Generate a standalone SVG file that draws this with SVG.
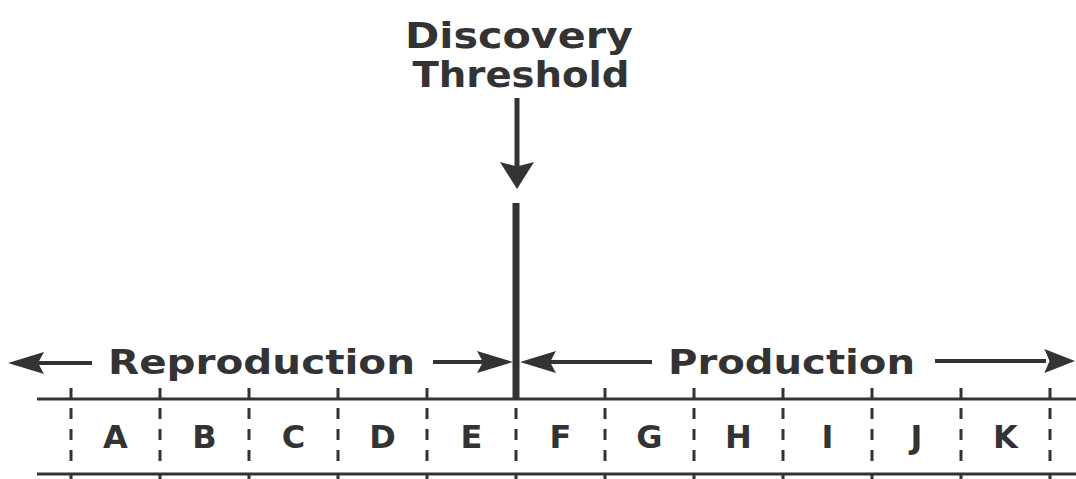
<svg xmlns="http://www.w3.org/2000/svg" width="1076" height="479" viewBox="0 0 1076 479">
  <style>
    .ink { fill: #333; }
    .line { stroke: #333; fill: none; }
    .title { font-family: "DejaVu Sans", "Liberation Sans", sans-serif; font-weight: bold; font-size: 36px; fill: #333; text-anchor: middle; }
    .phase { font-family: "DejaVu Sans", "Liberation Sans", sans-serif; font-weight: bold; font-size: 34px; fill: #333; }
    .cell { font-family: "DejaVu Sans", "Liberation Sans", sans-serif; font-weight: bold; font-size: 32px; fill: #333; text-anchor: middle; }
    .rule { stroke: #333; stroke-width: 3; }
    .tick { stroke: #333; stroke-width: 3; }
    .dash { stroke: #333; stroke-width: 3; stroke-dasharray: 11 10; }
  </style>
  <defs>
    <!-- barbed arrowhead pointing right, tip at origin -->
    <path id="head" d="M0 0 L-36 -11 L-30 0 L-36 11 Z"/>
  </defs>

  <rect width="1076" height="479" fill="#fff"/>

  <g id="threshold-label">
    <text class="title" x="519" y="48" textLength="228" lengthAdjust="spacingAndGlyphs">Discovery</text>
    <text class="title" x="521" y="87" textLength="217" lengthAdjust="spacingAndGlyphs">Threshold</text>
  </g>

  <g id="threshold-line">
    <line class="line" x1="516" y1="203" x2="516" y2="399" stroke-width="7"/>
  </g>

  <g id="reproduction-label">
    <text class="phase" x="108" y="374" textLength="307" lengthAdjust="spacingAndGlyphs">Reproduction</text>
  </g>

  <g id="production-label">
    <text class="phase" x="668" y="374" textLength="247" lengthAdjust="spacingAndGlyphs">Production</text>
  </g>

  <g id="timeline">
    <line class="rule" x1="37" y1="399" x2="1076" y2="399"/>
    <line class="rule" x1="37" y1="474" x2="1076" y2="474"/>
    <g id="ticks">
      <path class="tick" d="M71 388V399M160 388V399M249 388V399M338 388V399M427 388V399M605 388V399M694 388V399M783 388V399M872 388V399M961 388V399M1050 388V399"/>
      <path class="tick" d="M71 474V479M160 474V479M249 474V479M338 474V479M427 474V479M516 474V479M605 474V479M694 474V479M783 474V479M872 474V479M961 474V479M1050 474V479"/>
      <path class="dash" d="M71 408V465M160 408V465M249 408V465M338 408V465M427 408V465M516 408V465M605 408V465M694 408V465M783 408V465M872 408V465M961 408V465M1050 408V465"/>
    </g>
  </g>

  <g id="cell-A"><text class="cell" x="115.5" y="448">A</text></g>
  <g id="cell-B"><text class="cell" x="204.5" y="448">B</text></g>
  <g id="cell-C"><text class="cell" x="293.5" y="448">C</text></g>
  <g id="cell-D"><text class="cell" x="382.5" y="448">D</text></g>
  <g id="cell-E"><text class="cell" x="471.5" y="448">E</text></g>
  <g id="cell-F"><text class="cell" x="560.5" y="448">F</text></g>
  <g id="cell-G"><text class="cell" x="649.5" y="448">G</text></g>
  <g id="cell-H"><text class="cell" x="738.5" y="448">H</text></g>
  <g id="cell-I"><text class="cell" x="827.5" y="448">I</text></g>
  <g id="cell-J"><text class="cell" x="916.5" y="448">J</text></g>
  <g id="cell-K"><text class="cell" x="1005.5" y="448">K</text></g>

  <g id="connectors">
    <!-- threshold pointer -->
    <line class="line" x1="517" y1="98" x2="517" y2="170" stroke-width="5"/>
    <use href="#head" class="ink" transform="translate(517 189) rotate(90) scale(0.75 1.55)"/>
    <!-- reproduction span, leftwards -->
    <line class="line" x1="92" y1="363" x2="36" y2="363" stroke-width="4"/>
    <use href="#head" class="ink" transform="translate(8 363) rotate(180)"/>
    <!-- reproduction span, towards threshold -->
    <line class="line" x1="433" y1="362" x2="484" y2="362" stroke-width="4"/>
    <use href="#head" class="ink" transform="translate(513 362)"/>
    <!-- production span, towards threshold -->
    <line class="line" x1="652" y1="362" x2="550" y2="362" stroke-width="4"/>
    <use href="#head" class="ink" transform="translate(520 362) rotate(180)"/>
    <!-- production span, rightwards -->
    <line class="line" x1="935" y1="361" x2="1046" y2="361" stroke-width="4"/>
    <use href="#head" class="ink" transform="translate(1075 361) scale(0.85 1.1)"/>
  </g>
</svg>
